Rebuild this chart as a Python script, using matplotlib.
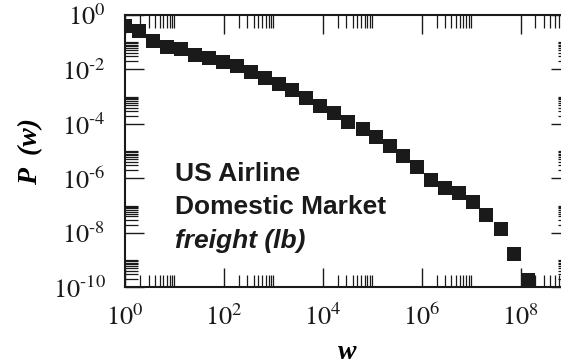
import numpy as np
import matplotlib
matplotlib.use("Agg")
import matplotlib.pyplot as plt
from matplotlib.ticker import LogLocator, FuncFormatter, NullFormatter

# Data (cumulative distribution of freight weight)
w_values = [1.0, 1.94, 3.7, 7.1, 13.5, 26, 50, 96, 181, 347, 665, 1290, 2400,
            4600, 8830, 17100, 32400, 63700, 117000, 228000, 422000, 818000,
            1.55e6, 2.96e6, 5.68e6, 1.09e7, 2.01e7, 3.94e7, 7.53e7, 1.43e8]
p_values = [0.405, 0.258, 0.111, 0.0686, 0.055, 0.034, 0.027, 0.0193, 0.0134,
            8.3e-3, 4.98e-3, 2.85e-3, 1.76e-3, 9.2e-4, 4.55e-4, 2.45e-4, 1.2e-4,
            6.3e-5, 3.4e-5, 1.55e-5, 6.6e-6, 2.7e-6, 8.4e-7, 4.4e-7, 3.0e-7,
            1.39e-7, 4.5e-8, 1.35e-8, 1.7e-9, 1.8e-10]
annotation_lines = ["US Airline", "Domestic Market", "freight (lb)"]
x_label = "w"
y_label = "P  (w)"

plt.rcParams['mathtext.fontset'] = 'stix'
plt.rcParams['font.family'] = ['Liberation Serif', 'DejaVu Serif']

W, H = 561, 364
fig = plt.figure(figsize=(W / 100, H / 100), dpi=100)
left, right, top, bottom = 125, 570, 15, 287.3
ax = fig.add_axes([left / W, 1 - bottom / H, (right - left) / W, (bottom - top) / H])

ax.set_xscale('log')
ax.set_yscale('log')
ax.set_xlim(1, 1e9)
ax.set_ylim(1e-10, 1)

ax.plot(w_values, p_values, linestyle='none', marker='s', markersize=10,
        color='#1a1a1a', markeredgewidth=0, clip_on=True)

def fmt(v, pos):
    e = int(round(np.log10(v)))
    if e < 0:
        return r'$10^{\text{-}%d}$' % (-e)
    return r'$10^{%d}$' % e

for axis in (ax.xaxis, ax.yaxis):
    axis.set_major_locator(LogLocator(base=100, subs=(1.0,), numticks=20))
    axis.set_minor_locator(LogLocator(base=100, subs=np.arange(2, 11), numticks=20))
    axis.set_major_formatter(FuncFormatter(fmt))
    axis.set_minor_formatter(NullFormatter())

ax.tick_params(which='both', direction='in', top=True, right=True, colors='#1a1a1a')
ax.tick_params(which='major', length=14, width=1.0, labelsize=19)
ax.tick_params(which='minor', length=9, width=0.9)
ax.tick_params(axis='x', which='major', pad=12)
ax.tick_params(axis='y', which='major', pad=14)
for s in ax.spines.values():
    s.set_linewidth(1.5)
    s.set_color('#1a1a1a')

ax.set_xlabel(x_label, fontsize=20, fontweight='bold', fontstyle='italic', labelpad=7)
ax.set_ylabel(y_label, fontsize=20, fontweight='bold', fontstyle='italic', labelpad=7)

baselines = [180.7, 214.5, 248]
for i, (txt, yb) in enumerate(zip(annotation_lines, baselines)):
    fig.text(175 / W, 1 - yb / H, txt, fontsize=19, fontweight='bold',
             fontstyle='italic' if i == 2 else 'normal',
             family=['Liberation Sans', 'DejaVu Sans'], color='#1a1a1a',
             va='baseline', ha='left')

fig.savefig('out.png', dpi=100)
